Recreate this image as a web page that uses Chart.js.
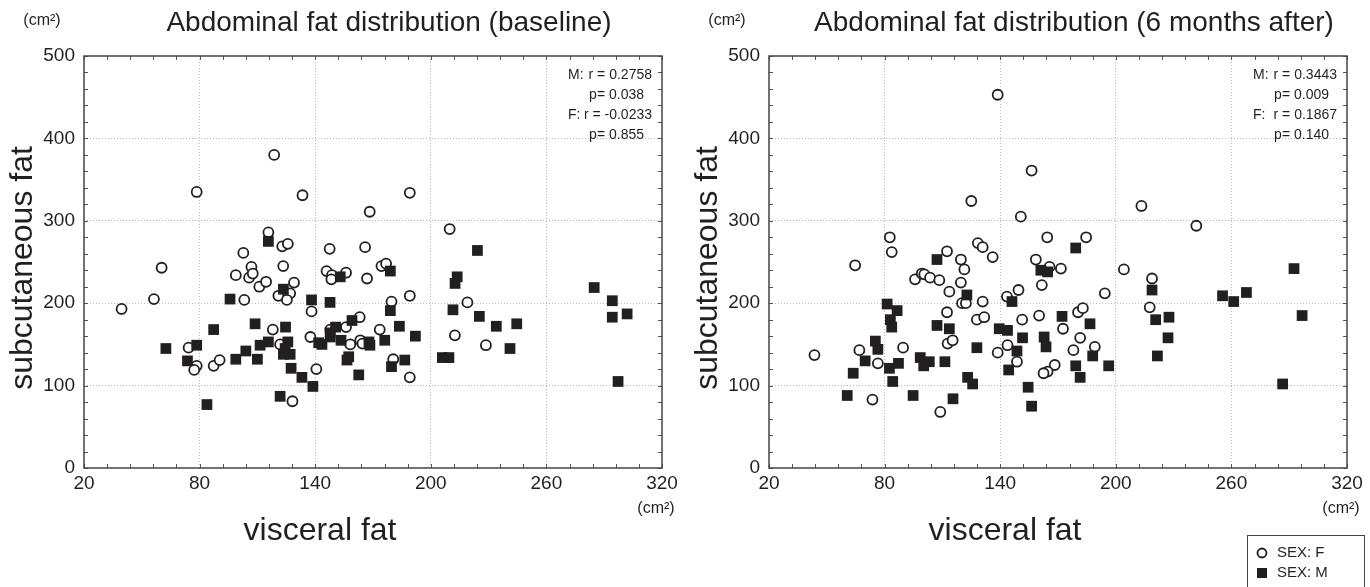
<!DOCTYPE html>
<html>
<head>
<meta charset="utf-8">
<script src="https://cdn.jsdelivr.net/npm/chart.js@4.4.0/dist/chart.umd.min.js"></script>
<style>
  html, body { margin: 0; padding: 0; background: #fff; }
  .wrap { display: flex; width: 1370px; height: 587px; overflow: hidden; }
  .box { position: relative; width: 685px; height: 587px; }
</style>
</head>
<body>
<div class="wrap">
  <div class="box"><canvas id="baseline"></canvas></div>
  <div class="box"><canvas id="after"></canvas></div>
</div>
<script>
// [visceral fat, subcutaneous fat] in cm2
const baselineF = [
  [39.5,193],[56.3,205],[60.3,243],[78.5,335],[74.3,146],[78.5,124],[77.2,119],[87.3,124],[90.4,131],
  [103.2,204],[102.7,261],[106.9,244],[98.8,234],[105.7,231],[107.6,236],[111,220],[114.5,226],
  [118.7,380],[133.4,331],[189.1,334],[168.3,311],[209.8,290],[115.7,286],[122.9,269],[125.8,272],
  [147.5,266],[165.9,268],[123.4,245],[145.9,239],[148.7,234],[156,237],[148.4,229],[174.4,245],
  [176.8,248],[166.9,230],[129,225],[127,212],[120.9,209],[125.3,204],[138.1,190],[189.1,209],
  [179.6,202],[219,201],[212.5,161],[118,168],[121.8,150],[140.6,120],[128.2,81],[137.5,159],
  [147.8,168],[156,171],[163.1,183],[158.2,150],[163.4,155],[164.5,151],[173.5,168],[180.5,132],
  [189.1,110],[228.6,149]
];
const baselineM = [
  [62.5,145],[78.5,149],[73.7,130],[83.8,77],[87.3,168],[95.8,205],[98.8,132],[104,142],[108.8,175],
  [110,132],[111.4,149],[115.7,275],[153,232],[179,239],[123.5,217],[138.1,204],[147.7,201],[179,191],
  [211.5,192],[213.7,232],[212.6,224],[206,134],[209.4,134],[124.6,171],[115.7,153],[125.8,153],
  [124.4,145],[127,138],[123.5,138],[127.5,121],[133.1,110],[138.8,99],[121.8,87],[141.8,152],
  [143.5,150],[147.8,159],[150.6,171],[147.8,164],[153.4,155],[159.1,179],[157.4,135],[156.5,131],
  [162.6,113],[168.4,149],[167.9,153],[176.1,155],[183.7,172],[192,160],[186.5,131],[179.6,123],
  [224.2,264],[225.2,184],[234,172],[244.6,175],[241.1,145],[284.8,219],[294.2,203],[294.2,183],
  [301.9,187],[297.2,105]
];
const afterF = [
  [43.6,137],[64.7,246],[66.9,143],[73.7,83],[76.5,127],[82.7,280],[83.7,262],[89.6,146],[95.8,229],
  [99.3,236],[100.6,235],[103.6,231],[108.4,228],[112.4,263],[113.6,214],[112.4,189],[112.7,151],
  [108.9,68],[138.7,453],[156.3,361],[125,324],[150.7,305],[213.3,318],[164.4,280],[184.6,280],
  [128.4,273],[130.9,268],[136.1,256],[119.6,253],[121.4,241],[158.5,253],[171.5,242],[165.6,244],
  [204.2,241],[119.6,225],[149.5,216],[143.5,208],[161.6,222],[194.3,212],[120.2,200],[122.2,200],
  [130.9,202],[127.9,180],[131.7,183],[151.4,180],[160.2,185],[180.4,189],[182.9,194],[115.3,155],
  [143.8,149],[138.7,140],[148.7,129],[172.6,169],[181.5,158],[178,143],[189.1,147],[168.3,125],
  [164.6,117],[162.5,115],[218.8,230],[217.6,195],[241.8,294]
];
const afterM = [
  [60.6,88],[63.7,115],[69.9,130],[75.2,154],[76.5,144],[81.3,199],[86.5,191],[83,180],[83.7,171],
  [82.5,121],[87.2,127],[84.2,105],[94.8,88],[107.2,253],[107.2,173],[113.6,169],[98.5,134],
  [100.3,124],[103.2,129],[111.3,129],[115.5,84],[179.2,267],[161.1,240],[164.6,238],[122.7,210],
  [146.1,202],[172.1,184],[186.6,175],[139.5,169],[143.8,167],[151.6,158],[162.8,159],[163.8,147],
  [148.7,142],[127.9,146],[144.4,119],[123.1,110],[125.7,102],[154.5,98],[156.3,75],[179.2,124],
  [181.5,110],[188,136],[196.3,124],[218.8,216],[220.7,180],[221.6,136],[227.6,183],[227.1,158],
  [255.4,209],[261.2,202],[267.8,213],[292.5,242],[296.7,185],[286.6,102]
];

const xTicks = [20, 80, 140, 200, 260, 320];
const yTicks = [0, 100, 200, 300, 400, 500];
const baselineStats = { M: ['0.2758', '0.038'], F: ['-0.0233', '0.855'] };
const afterStats = { M: ['0.3443', '0.009'], F: ['0.1867', '0.140'] };

const INK = '#231f20';
const FONT = '"Liberation Sans", Arial, Helvetica, sans-serif';

function toPoints(arr) {
  return arr.map(p => ({ x: p[0], y: p[1] }));
}

// frame, inner minor ticks, titles, stats text, legend
const decorations = {
  id: 'decorations',
  afterDraw(chart, args, opts) {
    const ctx = chart.ctx;
    const a = chart.chartArea;
    const xs = chart.scales.x, ys = chart.scales.y;
    ctx.save();

    // minor ticks on all four sides, pointing inward
    ctx.strokeStyle = '#555';
    ctx.lineWidth = 1;
    ctx.beginPath();
    for (let v = 0; v <= 500; v += 20) {
      const py = Math.round(ys.getPixelForValue(v)) + 0.5;
      ctx.moveTo(a.left, py); ctx.lineTo(a.left + 4, py);
      ctx.moveTo(a.right, py); ctx.lineTo(a.right - 4, py);
    }
    for (let v = 20; v <= 320; v += 12) {
      const px = Math.round(xs.getPixelForValue(v)) + 0.5;
      ctx.moveTo(px, a.bottom); ctx.lineTo(px, a.bottom - 4);
      ctx.moveTo(px, a.top); ctx.lineTo(px, a.top + 4);
    }
    ctx.stroke();

    // frame
    ctx.strokeStyle = '#444';
    ctx.lineWidth = 1.5;
    ctx.strokeRect(a.left, a.top, a.right - a.left, a.bottom - a.top);

    ctx.fillStyle = INK;
    ctx.textBaseline = 'middle';

    // title
    ctx.textAlign = 'center';
    ctx.font = '28px ' + FONT;
    ctx.fillText(opts.title, 389, 23);

    // units
    ctx.font = '16px ' + FONT;
    ctx.fillText('(cm²)', 42, 21);
    ctx.fillText('(cm²)', 656, 509);

    // axis titles
    ctx.font = '32px ' + FONT;
    ctx.fillText('visceral fat', 320, 531);
    ctx.save();
    ctx.translate(23, 268);
    ctx.rotate(-Math.PI / 2);
    ctx.fillText('subcutaneous fat', 0, 0);
    ctx.restore();

    // correlation text
    ctx.font = '14px ' + FONT;
    const r0 = a.right - 10;
    const st = opts.stats;
    ctx.textAlign = 'left';
    ctx.fillText('M:', r0 - 84, 75);
    ctx.fillText('F:', r0 - 84, 115);
    ctx.textAlign = 'right';
    ctx.fillText('r = ' + st.M[0], r0, 75);
    ctx.fillText('p= ' + st.M[1], r0 - 8, 95);
    ctx.fillText('r = ' + st.F[0], r0, 115);
    ctx.fillText('p= ' + st.F[1], r0 - 8, 135);

    // legend box
    if (opts.legend) {
      const lx = 562, ly = 535;
      ctx.strokeStyle = '#444';
      ctx.lineWidth = 1;
      ctx.strokeRect(lx + 0.5, ly + 0.5, 117, 60);
      ctx.beginPath();
      ctx.arc(lx + 15, ly + 18, 4.5, 0, Math.PI * 2);
      ctx.fillStyle = '#fff';
      ctx.fill();
      ctx.lineWidth = 1.8;
      ctx.strokeStyle = INK;
      ctx.stroke();
      ctx.fillStyle = INK;
      ctx.fillRect(lx + 10, ly + 33, 10, 10);
      ctx.textAlign = 'left';
      ctx.font = '15px ' + FONT;
      ctx.fillText('SEX: F', lx + 30, ly + 18);
      ctx.fillText('SEX: M', lx + 30, ly + 38);
    }
    ctx.restore();
  }
};

function makeChart(id, title, fData, mData, stats, legend) {
  const edge = (vals) => (c) => (c.tick && (c.tick.value === vals[0] || c.tick.value === vals[vals.length - 1])) ? 'rgba(0,0,0,0)' : '#b8b8b8';
  return new Chart(document.getElementById(id), {
    type: 'scatter',
    data: {
      datasets: [
        {
          label: 'SEX: F',
          data: toPoints(fData),
          pointStyle: 'circle',
          pointRadius: 5,
          pointBorderWidth: 1.8,
          pointBorderColor: INK,
          pointBackgroundColor: '#fff',
          order: 2
        },
        {
          label: 'SEX: M',
          data: toPoints(mData),
          pointStyle: 'rect',
          pointRadius: 7.6,
          pointBorderWidth: 0,
          pointBorderColor: INK,
          pointBackgroundColor: INK,
          order: 1
        }
      ]
    },
    options: {
      responsive: false,
      animation: false,
      devicePixelRatio: 1,
      layout: { padding: { left: 0, right: 23, top: 56, bottom: 0 } },
      plugins: {
        legend: { display: false },
        tooltip: { enabled: false },
        decorations: { title: title, stats: stats, legend: legend }
      },
      scales: {
        x: {
          type: 'linear',
          min: xTicks[0],
          max: xTicks[xTicks.length - 1],
          afterBuildTicks: s => { s.ticks = xTicks.map(v => ({ value: v })); },
          afterFit: s => { s.height = 119; },
          grid: { color: edge(xTicks), lineWidth: 1, drawTicks: false },
          border: { display: false, dash: [1, 2] },
          ticks: { padding: 4, color: INK, font: { size: 19, family: FONT } }
        },
        y: {
          type: 'linear',
          min: yTicks[0],
          max: yTicks[yTicks.length - 1],
          afterBuildTicks: s => { s.ticks = yTicks.map(v => ({ value: v })); },
          afterFit: s => { s.width = 84; },
          grid: { color: edge(yTicks), lineWidth: 1, drawTicks: false },
          border: { display: false, dash: [1, 2] },
          ticks: { padding: 9, color: INK, font: { size: 19, family: FONT } }
        }
      }
    },
    plugins: [decorations]
  });
}

for (const id of ['baseline', 'after']) {
  const c = document.getElementById(id);
  c.width = 685; c.height = 587;
  c.style.width = '685px'; c.style.height = '587px';
}

makeChart('baseline', 'Abdominal fat distribution (baseline)', baselineF, baselineM, baselineStats, false);
makeChart('after', 'Abdominal fat distribution (6 months after)', afterF, afterM, afterStats, true);
</script>
</body>
</html>
